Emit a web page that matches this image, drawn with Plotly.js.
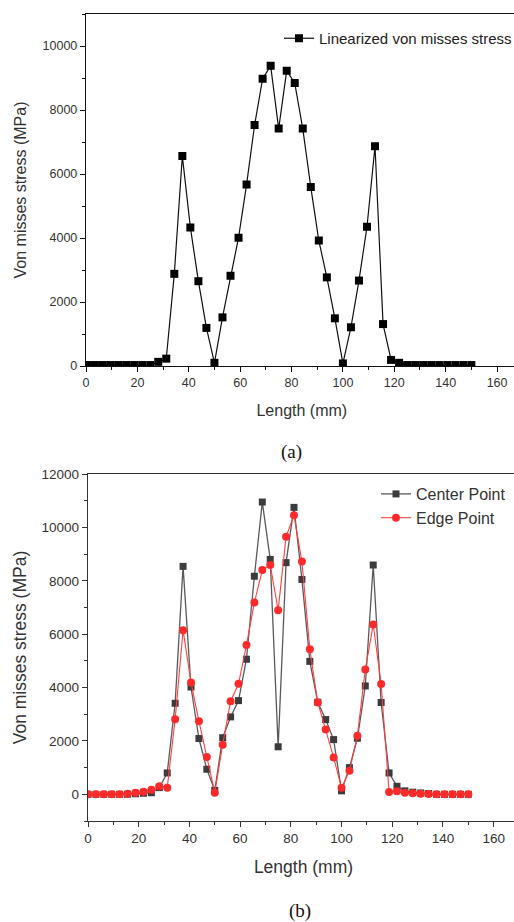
<!DOCTYPE html>
<html>
<head>
<meta charset="utf-8">
<script src="https://cdn.plot.ly/plotly-3.0.1.min.js"></script>
<style>
html,body{margin:0;padding:0;overflow:hidden;background:#fff;width:514px;height:922px;}
#chart{width:530px;height:922px;}
</style>
</head>
<body>
<div id="chart"></div>
<script>
// Length positions (mm)
var lengthMm = [0,3.125,6.25,9.375,12.5,15.625,18.75,21.875,25,28.125,31.25,34.375,37.5,40.625,43.75,46.875,50,53.125,56.25,59.375,62.5,65.625,68.75,71.875,75,78.125,81.25,84.375,87.5,90.625,93.75,96.875,100,103.125,106.25,109.375,112.5,115.625,118.75,121.875,125,128.125,131.25,134.375,137.5,140.625,143.75,146.875,150];

// (a) Linearized von misses stress (MPa)
var linearizedStress = [30,30,30,30,30,30,30,30,30,130,230,2880,6560,4330,2650,1190,100,1520,2820,4010,5670,7530,8980,9380,7420,9230,8840,7420,5590,3920,2770,1490,80,1210,2670,4350,6870,1310,190,100,30,30,30,30,30,30,30,30,30];

// (b) Center point and edge point stress (MPa)
var centerPoint = [0,0,0,0,0,0,20,40,60,250,800,3410,8540,4020,2090,940,150,2120,2900,3510,5060,8170,10950,8800,1780,8680,10750,8050,4980,3450,2800,2050,130,1000,2100,4060,8590,3440,800,300,130,80,50,30,0,0,0,0,0];
var edgePoint = [0,0,0,0,0,20,60,100,175,300,250,2810,6150,4190,2740,1400,60,1860,3490,4140,5590,7190,8400,8590,6900,9650,10450,8720,5430,3440,2430,1380,250,880,2190,4680,6360,4130,90,110,60,40,20,10,0,0,0,0,0];

var xTicksA = [0,20,40,60,80,100,120,140,160];
var yTicksA = [0,2000,4000,6000,8000,10000];
var yTicksB = [0,2000,4000,6000,8000,10000,12000];

var W = 530, H = 922;
var FONT = 'Liberation Sans, Arial, sans-serif';

var traces = [
  {x: lengthMm, y: linearizedStress, type:'scatter', mode:'lines+markers',
   name:'Linearized von misses stress', xaxis:'x', yaxis:'y', legend:'legend',
   line:{color:'#111', width:1.2}, marker:{symbol:'square', size:8, color:'#000'}},
  {x: lengthMm, y: centerPoint, type:'scatter', mode:'lines+markers',
   name:'Center Point', xaxis:'x2', yaxis:'y2', legend:'legend2',
   line:{color:'#5a5a5a', width:1.3}, marker:{symbol:'square', size:7, color:'#3c3c3c'}},
  {x: lengthMm, y: edgePoint, type:'scatter', mode:'lines+markers',
   name:'Edge Point', xaxis:'x2', yaxis:'y2', legend:'legend2',
   line:{color:'#ff4040', width:1.1}, marker:{symbol:'circle', size:8, color:'#ff2a2a'}}
];

function xAxis(domain, range, anchor, fs, lc, title, standoff, tfs){
  return {domain: domain, range: range, anchor: anchor, tickvals: xTicksA,
    ticks:'outside', ticklen:5, tickwidth:1, tickcolor: lc,
    minor:{dtick:10, tick0:0, ticks:'outside', ticklen:3, tickcolor: lc},
    showline:true, mirror:true, linecolor: lc, linewidth:1.2,
    showgrid:false, zeroline:false, tickformat:'d',
    tickfont:{family:FONT, size:fs, color:'#333'},
    title:{text:title, font:{family:FONT, size:tfs, color:'#333'}, standoff: standoff}};
}
function yAxis(domain, range, anchor, tv, fs, lc, title, standoff, tfs){
  return {domain: domain, range: range, anchor: anchor, tickvals: tv,
    ticks:'outside', ticklen:5, tickwidth:1, tickcolor: lc,
    minor:{dtick:1000, tick0:0, ticks:'outside', ticklen:3, tickcolor: lc},
    showline:true, mirror:true, linecolor: lc, linewidth:1.2,
    showgrid:false, zeroline:false, tickformat:'d',
    tickfont:{family:FONT, size:fs, color:'#333'},
    title:{text:title, font:{family:FONT, size:tfs, color:'#333'}, standoff: standoff}};
}

var layout = {
  width: W, height: H,
  margin:{l:0, r:0, t:0, b:0},
  paper_bgcolor:'#fff', plot_bgcolor:'#fff',
  showlegend:true,
  xaxis: xAxis([86/W, 517.6/W], [0,168], 'y', 12.5, '#111', 'Length (mm)', 15, 16),
  yaxis: yAxis([1-366/H, 1-14/H], [0,11000], 'x', yTicksA, 12.5, '#111', 'Von misses stress (MPa)', 12, 16),
  xaxis2: xAxis([88/W, 519/W], [0,170], 'y2', 13.5, '#333', 'Length (mm)', 15, 17.5),
  yaxis2: yAxis([1-821/H, 1-474/H], [-1000,12000], 'x2', yTicksB, 13.5, '#333', 'Von misses stress (MPa)', 10, 17.5),
  legend:{x:279/W, y:1-22/H, xanchor:'left', yanchor:'top', bgcolor:'rgba(0,0,0,0)',
    font:{family:FONT, size:15, color:'#222'}},
  legend2:{x:376/W, y:1-477/H, xanchor:'left', yanchor:'top', bgcolor:'rgba(0,0,0,0)',
    font:{family:FONT, size:16, color:'#333'}},
  annotations:[
    {text:'(a)', xref:'paper', yref:'paper', x:291/W, y:1-452/H, xanchor:'center', yanchor:'middle',
     showarrow:false, font:{family:'Liberation Serif, Times New Roman, serif', size:19, color:'#111'}},
    {text:'(b)', xref:'paper', yref:'paper', x:299.5/W, y:1-911/H, xanchor:'center', yanchor:'middle',
     showarrow:false, font:{family:'Liberation Serif, Times New Roman, serif', size:19, color:'#111'}}
  ]
};

Plotly.newPlot('chart', traces, layout, {displayModeBar:false, staticPlot:true});
</script>
</body>
</html>
